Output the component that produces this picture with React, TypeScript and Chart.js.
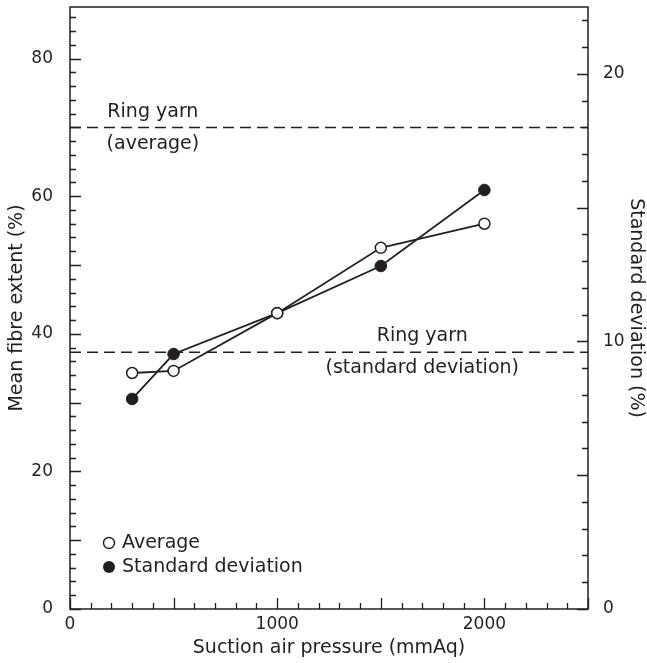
import React, { useEffect, useRef } from 'react';
import { Chart, registerables } from 'chart.js';

Chart.register(...registerables);

// ---- data ----
const pressures = [300, 500, 1000, 1500, 2000];
const meanFibreExtent = [34.3, 34.6, 43.0, 52.5, 56.0];
const standardDeviation = [7.85, 9.53, 11.06, 12.82, 15.66];
const ringYarnAverage = 70;
const ringYarnSD = 9.6;
const xRange = [0, 2500];
const leftRange = [0, 87.5];
const rightRange = [0, 22.5];
const xLabelTicks = [0, 1000, 2000];
const leftLabelTicks = [0, 20, 40, 60, 80];
const rightLabelTicks = [0, 10, 20];

const INK = '#231f20';
const FONT = '"DejaVu Sans", sans-serif';

const framePlugin = {
  id: 'frame',
  afterDatasetsDraw(chart: any) {
    const { ctx, chartArea: a, scales } = chart;
    ctx.save();
    ctx.strokeStyle = INK;
    ctx.lineWidth = 1.5;
    ctx.strokeRect(a.left, a.top, a.right - a.left, a.bottom - a.top);
    ctx.lineWidth = 1.3;
    ctx.beginPath();
    for (const t of scales.x.ticks) {
      const v = t.value;
      if (v % 100 !== 0) continue;
      const px = Math.round(scales.x.getPixelForValue(v)) + 0.5;
      const len = v % 500 === 0 ? 11 : 6;
      ctx.moveTo(px, a.bottom);
      ctx.lineTo(px, a.bottom - len);
    }
    for (const t of scales.yL.ticks) {
      const v = t.value;
      if (v % 2 !== 0) continue;
      const py = Math.round(scales.yL.getPixelForValue(v)) + 0.5;
      const len = v % 10 === 0 ? 11 : 6;
      ctx.moveTo(a.left, py);
      ctx.lineTo(a.left + len, py);
    }
    for (const t of scales.yR.ticks) {
      const v = t.value;
      if (v % 1 !== 0) continue;
      const py = Math.round(scales.yR.getPixelForValue(v)) + 0.5;
      const len = v % 5 === 0 ? 11 : 6;
      ctx.moveTo(a.right, py);
      ctx.lineTo(a.right - len, py);
    }
    ctx.stroke();

    // annotations
    ctx.fillStyle = INK;
    ctx.font = `19px ${FONT}`;
    ctx.textAlign = 'center';
    ctx.textBaseline = 'middle';
    const ax = scales.x.getPixelForValue(400);
    const ay = scales.yL.getPixelForValue(ringYarnAverage);
    ctx.fillText('Ring yarn', ax, ay - 15);
    ctx.fillText('(average)', ax, ay + 17);
    const sx = scales.x.getPixelForValue(1700);
    const sy = scales.yR.getPixelForValue(ringYarnSD);
    ctx.fillText('Ring yarn', sx, sy - 16);
    ctx.fillText('(standard deviation)', sx, sy + 16);

    // legend
    const lx = a.left + 39;
    const ly1 = a.bottom - 66;
    const ly2 = a.bottom - 42;
    ctx.lineWidth = 1.4;
    ctx.beginPath();
    ctx.arc(lx, ly1, 5.5, 0, Math.PI * 2);
    ctx.fillStyle = '#fff';
    ctx.fill();
    ctx.stroke();
    ctx.beginPath();
    ctx.arc(lx, ly2, 6, 0, Math.PI * 2);
    ctx.fillStyle = INK;
    ctx.fill();
    ctx.textAlign = 'left';
    ctx.fillText('Average', lx + 13, ly1);
    ctx.fillText('Standard deviation', lx + 13, ly2);
    ctx.restore();
  },
};

const noPad = (s: any) => {
  s.paddingTop = 0;
  s.paddingBottom = 0;
  s.paddingLeft = 0;
  s.paddingRight = 0;
};

export default function App() {
  const ref = useRef<HTMLCanvasElement | null>(null);
  useEffect(() => {
    if (!ref.current) return;
    Chart.defaults.font.family = FONT;
    const chart = new Chart(ref.current, {
      type: 'line',
      data: {
        datasets: [
          {
            label: 'Ring yarn (average)',
            data: [{ x: xRange[0], y: ringYarnAverage }, { x: xRange[1], y: ringYarnAverage }],
            yAxisID: 'yL',
            borderColor: INK,
            borderWidth: 1.5,
            borderDash: [11, 6],
            pointRadius: 0,
          },
          {
            label: 'Ring yarn (standard deviation)',
            data: [{ x: xRange[0], y: ringYarnSD }, { x: xRange[1], y: ringYarnSD }],
            yAxisID: 'yR',
            borderColor: INK,
            borderWidth: 1.5,
            borderDash: [11, 6],
            pointRadius: 0,
          },
          {
            label: 'Average',
            data: pressures.map((x, i) => ({ x, y: meanFibreExtent[i] })),
            yAxisID: 'yL',
            borderColor: INK,
            borderWidth: 1.8,
            pointRadius: 5.5,
            pointBorderWidth: 1.5,
            pointBackgroundColor: '#ffffff',
            pointBorderColor: INK,
            tension: 0,
          },
          {
            label: 'Standard deviation',
            data: pressures.map((x, i) => ({ x, y: standardDeviation[i] })),
            yAxisID: 'yR',
            borderColor: INK,
            borderWidth: 1.8,
            pointRadius: 5.8,
            pointBorderWidth: 1,
            pointBackgroundColor: INK,
            pointBorderColor: INK,
            tension: 0,
          },
        ],
      },
      options: {
        animation: false,
        responsive: true,
        maintainAspectRatio: false,
        layout: { padding: { top: 7, left: 0, right: 0, bottom: 0 } },
        plugins: { legend: { display: false }, tooltip: { enabled: false } },
        scales: {
          x: {
            type: 'linear',
            position: 'bottom',
            min: xRange[0],
            max: xRange[1],
            grid: { display: false },
            border: { display: false },
            ticks: {
              stepSize: 100,
              autoSkip: false,
              maxRotation: 0,
              includeBounds: false,
              padding: -3,
              color: INK,
              font: { size: 17 },
              callback: (v: any) => (xLabelTicks.includes(Number(v)) ? String(v) : ''),
            },
            title: {
              display: true,
              text: 'Suction air pressure (mmAq)',
              color: INK,
              font: { size: 19 },
              padding: { top: 0, bottom: 4 },
            },
            afterFit: (s: any) => { s.height = 54; noPad(s); },
          },
          yL: {
            type: 'linear',
            position: 'left',
            min: leftRange[0],
            max: leftRange[1],
            grid: { display: false },
            border: { display: false },
            ticks: {
              stepSize: 2,
              autoSkip: false,
              includeBounds: false,
              padding: 9,
              color: INK,
              font: { size: 17 },
              callback: (v: any) => (leftLabelTicks.includes(Number(v)) ? String(v) : ''),
            },
            title: {
              display: true,
              text: 'Mean fibre extent (%)',
              color: INK,
              font: { size: 19 },
              padding: { top: 6, bottom: 0 },
            },
            afterFit: (s: any) => { s.width = 70; noPad(s); },
          },
          yR: {
            type: 'linear',
            position: 'right',
            min: rightRange[0],
            max: rightRange[1],
            grid: { display: false, drawOnChartArea: false },
            border: { display: false },
            ticks: {
              stepSize: 1,
              autoSkip: false,
              includeBounds: false,
              padding: 7,
              color: INK,
              font: { size: 17 },
              callback: (v: any) => (rightLabelTicks.includes(Number(v)) ? String(v) : ''),
            },
            title: {
              display: true,
              text: 'Standard deviation (%)',
              color: INK,
              font: { size: 19 },
              padding: { top: 0, bottom: 0 },
            },
            afterFit: (s: any) => { s.width = 59; noPad(s); },
          },
        },
      } as any,
      plugins: [framePlugin],
    });
    return () => chart.destroy();
  }, []);

  return (
    <div style={{ position: 'fixed', left: 0, top: 0, width: 647, height: 663, background: '#fff' }}>
      <canvas ref={ref} />
    </div>
  );
}
